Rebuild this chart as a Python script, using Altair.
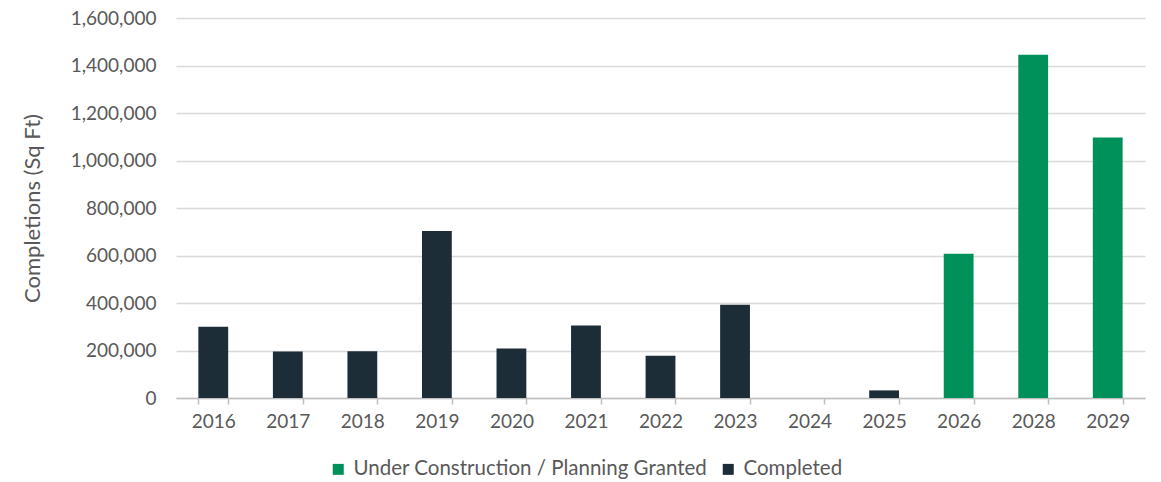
import altair as alt
import pandas as pd

years = ["2016", "2017", "2018", "2019", "2020", "2021", "2022", "2023", "2024", "2025", "2026", "2028", "2029"]
values = [300000, 196000, 197000, 703000, 208000, 305000, 178000, 393000, 0, 32000, 607000, 1445000, 1097000]
status = ["Completed"] * 10 + ["Under Construction / Planning Granted"] * 3

series_names = ["Under Construction / Planning Granted", "Completed"]
series_colors = ["#00915a", "#1c2d38"]

df = pd.DataFrame({"year": years, "value": values, "status": status})

FONT = "Lato"
GREY = "#595959"

chart = alt.Chart(df).mark_bar().encode(
    x=alt.X("year:N", sort=years, title=None,
            scale=alt.Scale(paddingInner=0.6, paddingOuter=0.3),
            axis=alt.Axis(labelAngle=0, tickBand="extent", domainColor="#bfbfbf", domainWidth=1.5,
                          tickColor="#bfbfbf", tickWidth=1.5, tickSize=6, labelPadding=8,
                          labelFont=FONT, labelFontSize=19, labelColor=GREY, grid=False)),
    y=alt.Y("value:Q", title="Completions (Sq Ft)",
            scale=alt.Scale(domain=[0, 1600000], nice=False),
            axis=alt.Axis(values=list(range(0, 1600001, 200000)), format=",d", domain=False, ticks=False,
                          labelPadding=20, labelFont=FONT, labelFontSize=19, labelColor=GREY,
                          titleFont=FONT, titleFontSize=22, titleColor=GREY, titleFontWeight="normal",
                          titlePadding=26, gridColor="#d9d9d9", gridWidth=1.5)),
    color=alt.Color("status:N", scale=alt.Scale(domain=series_names, range=series_colors),
                    legend=alt.Legend(title=None, orient="none", legendX=152, legendY=441,
                                      direction="horizontal", symbolType="square", symbolSize=121,
                                      symbolStrokeWidth=0, labelFont=FONT, labelFontSize=20.5,
                                      labelColor=GREY, columnPadding=10, labelOffset=5,
                                      labelLimit=500)),
).properties(
    width=969, height=380,
    autosize=alt.AutoSizeParams(type="none"),
    padding={"left": 168, "top": 10, "right": 8, "bottom": 84},
).configure_view(stroke=None)

chart.save("out.html", embed_options={"renderer": "svg", "actions": False})
